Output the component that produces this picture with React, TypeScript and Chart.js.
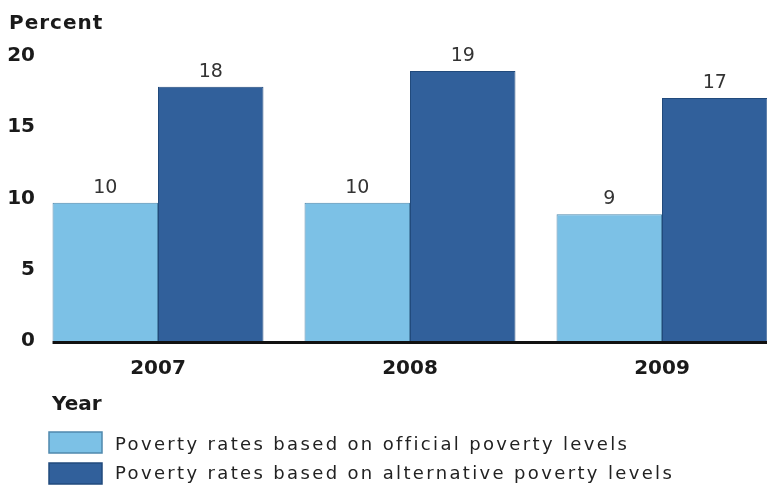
import React, { useEffect, useRef } from 'react';
import { Chart, registerables } from 'chart.js';

Chart.register(...registerables);

const years = ['2007', '2008', '2009'];
const officialRates = [9.7, 9.7, 8.9];
const alternativeRates = [17.85, 18.95, 17.05];
const seriesNames = [
  'Poverty rates based on official poverty levels',
  'Poverty rates based on alternative poverty levels',
];
const yTicks = [0, 5, 10, 15, 20];
const yAxisTitle = 'Percent';
const xAxisTitle = 'Year';

const FONT = '"DejaVu Sans", "Liberation Sans", sans-serif';
const LIGHT = '#7cc1e6';
const LIGHT_BORDER = '#4f88ad';
const DARK = '#31609b';
const DARK_BORDER = '#214a7c';

const decorPlugin = {
  id: 'decor',
  afterDatasetsDraw(chart: any) {
    const ctx = chart.ctx;
    const yScale = chart.scales.y;
    const zeroY = yScale.getPixelForValue(0);
    const firstBar = chart.getDatasetMeta(0).data[0];
    const left = firstBar.x - firstBar.width / 2;
    ctx.save();
    // baseline
    ctx.strokeStyle = '#111111';
    ctx.lineWidth = 3;
    ctx.beginPath();
    ctx.moveTo(left, zeroY + 1.5);
    ctx.lineTo(chart.width, zeroY + 1.5);
    ctx.stroke();
    // value labels
    ctx.font = `19px ${FONT}`;
    ctx.fillStyle = '#333333';
    ctx.textAlign = 'center';
    ctx.textBaseline = 'alphabetic';
    chart.data.datasets.forEach((ds: any, i: number) => {
      chart.getDatasetMeta(i).data.forEach((bar: any, j: number) => {
        ctx.fillText(String(Math.round(ds.data[j])), bar.x, bar.y - 10);
      });
    });
    ctx.restore();
  },
  afterDraw(chart: any) {
    const ctx = chart.ctx;
    ctx.save();
    ctx.textAlign = 'left';
    ctx.textBaseline = 'alphabetic';
    ctx.fillStyle = '#1a1a1a';
    ctx.font = `bold 20px ${FONT}`;
    (ctx as any).letterSpacing = '1px';
    ctx.fillText(yAxisTitle, 9, 29);
    (ctx as any).letterSpacing = '0px';
    ctx.fillText(xAxisTitle, 52, 410);
    // legend
    const rows = [
      { y: 432, base: 450 },
      { y: 463, base: 479 },
    ];
    chart.data.datasets.forEach((ds: any, i: number) => {
      const r = rows[i];
      ctx.fillStyle = ds.backgroundColor;
      ctx.fillRect(49, r.y, 53, 21);
      ctx.strokeStyle = ds.borderColor;
      ctx.lineWidth = 1.5;
      ctx.strokeRect(49, r.y, 53, 21);
      ctx.fillStyle = '#222222';
      ctx.font = `18px ${FONT}`;
      (ctx as any).letterSpacing = '2.35px';
      ctx.fillText(ds.label, 115, r.base);
      (ctx as any).letterSpacing = '0px';
    });
    ctx.restore();
  },
};

export default function App() {
  const canvasRef = useRef<HTMLCanvasElement | null>(null);

  useEffect(() => {
    if (!canvasRef.current) return;
    const chart = new Chart(canvasRef.current, {
      type: 'bar',
      data: {
        labels: years,
        datasets: [
          {
            label: seriesNames[0],
            data: officialRates,
            backgroundColor: LIGHT,
            borderColor: LIGHT_BORDER,
            borderWidth: 1,
            barPercentage: 1,
            categoryPercentage: 0.837,
          },
          {
            label: seriesNames[1],
            data: alternativeRates,
            backgroundColor: DARK,
            borderColor: DARK_BORDER,
            borderWidth: 1,
            barPercentage: 1,
            categoryPercentage: 0.837,
          },
        ],
      },
      options: {
        animation: false,
        responsive: true,
        maintainAspectRatio: false,
        layout: { padding: { top: 56, right: 12, bottom: 106, left: 0 } },
        plugins: {
          legend: { display: false },
          tooltip: { enabled: false },
        },
        scales: {
          x: {
            grid: { display: false, drawTicks: false },
            border: { display: false },
            ticks: {
              font: { family: FONT, size: 20, weight: 'bold' },
              color: '#1a1a1a',
              padding: 16,
            },
            afterFit: (s: any) => {
              s.height = 40;
            },
          },
          y: {
            min: 0,
            max: 20,
            grid: { display: false, drawTicks: false },
            border: { display: false },
            ticks: {
              font: { family: FONT, size: 20, weight: 'bold' },
              color: '#1a1a1a',
              padding: -3,
            },
            afterBuildTicks: (s: any) => {
              s.ticks = yTicks.map((v) => ({ value: v }));
            },
            afterFit: (s: any) => {
              s.width = 32;
              s._computeLabelArea = () => undefined;
            },
          },
        },
      },
      plugins: [decorPlugin],
    });
    return () => chart.destroy();
  }, []);

  return (
    <div
      style={{
        position: 'fixed',
        left: 0,
        top: 0,
        width: 767,
        height: 487,
        overflow: 'hidden',
        background: '#ffffff',
      }}
    >
      <div style={{ position: 'relative', width: 800, height: 487 }}>
        <canvas ref={canvasRef} />
      </div>
    </div>
  );
}
